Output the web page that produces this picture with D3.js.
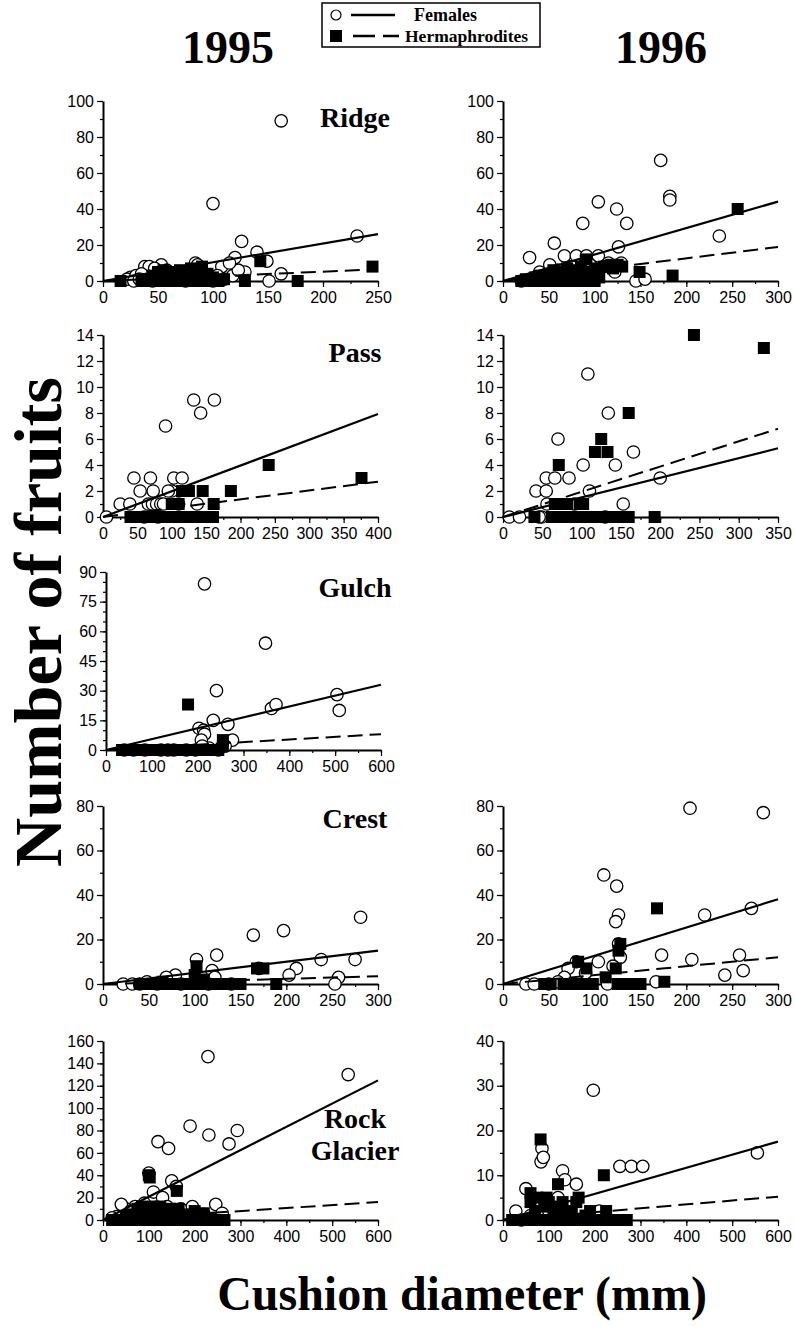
<!DOCTYPE html>
<html>
<head>
<meta charset="utf-8">
<script src="https://cdn.jsdelivr.net/npm/d3@7"></script>
<style>
	body { margin: 0; background: #fff; }
	svg { display: block; }
	.axis text { font-family: 'Liberation Sans', Arial, sans-serif; font-size: 16px; fill: #000; }
	.axis .domain { stroke: #000; stroke-width: 2; }
	.axis line { stroke: #000; stroke-width: 1.2; }
	.serif { font-family: 'Liberation Serif', 'Times New Roman', serif; font-weight: bold; fill: #000; }
</style>
</head>
<body>
<svg id="chart" width="794" height="1327"></svg>
<script>
/* global d3 */

// [cushion diameter (mm), number of fruits]
const ridge1995Females = [[162, 89], [100, 43], [231, 25], [126, 22], [140, 16], [120, 13], [149, 11], [129, 5], [151, 0], [162, 4], [108, 8], [84, 10], [86, 9], [38, 8], [42, 8], [53, 9], [47, 7], [25, 2], [22, 1], [30, 3], [35, 4], [58, 6], [63, 3], [70, 5], [78, 6], [92, 4], [96, 2], [104, 3], [110, 1], [118, 3], [123, 6], [115, 10], [66, 1], [45, 0], [55, 1], [75, 0], [88, 1], [100, 0], [28, 0], [33, 1]]
const ridge1995Herms = [[16, 0], [143, 11], [245, 8], [129, 0], [177, 0], [35, 0], [40, 1], [45, 3], [50, 5], [55, 6], [60, 5], [65, 4], [70, 6], [75, 5], [80, 7], [85, 6], [90, 8], [95, 4], [100, 2], [105, 0], [110, 1], [38, 0], [48, 0], [58, 0], [68, 0], [78, 0], [88, 0], [98, 0], [62, 2], [72, 2], [82, 3], [92, 2], [52, 2]]
const ridge1996Females = [[29, 13], [56, 21], [87, 32], [104, 44], [124, 40], [135, 32], [172, 67], [182, 47], [182, 45], [236, 25], [126, 19], [67, 14], [80, 14], [91, 14], [104, 14], [51, 9], [145, 0], [155, 1], [122, 5], [129, 10], [115, 10], [40, 5], [45, 3], [60, 6], [75, 8], [95, 9], [100, 5], [110, 8], [35, 2], [62, 3], [20, 0], [30, 1], [85, 2]]
const ridge1996Herms = [[256, 40], [149, 5], [185, 3], [91, 12], [118, 9], [125, 9], [20, 0], [25, 1], [30, 0], [35, 2], [40, 3], [45, 0], [50, 4], [55, 6], [60, 3], [65, 5], [70, 7], [75, 4], [80, 6], [85, 8], [90, 5], [95, 3], [100, 0], [105, 2], [60, 0], [70, 0], [80, 0], [90, 0], [40, 0], [50, 0], [110, 8], [120, 7], [130, 8], [100, 7]]
const pass1995Females = [[91, 7], [132, 9], [142, 8], [162, 9], [45, 3], [69, 3], [103, 3], [115, 3], [54, 2], [73, 2], [100, 2], [25, 1], [39, 1], [66, 1], [72, 1], [78, 1], [84, 1], [88, 1], [5, 0], [95, 2], [110, 1], [137, 1], [60, 0], [80, 0]]
const pass1995Herms = [[241, 4], [376, 3], [145, 2], [186, 2], [125, 2], [161, 1], [40, 0], [48, 0], [56, 0], [64, 0], [72, 0], [80, 0], [88, 0], [96, 0], [104, 0], [112, 0], [120, 0], [128, 0], [136, 0], [144, 0], [152, 0], [160, 0], [100, 1], [110, 1], [115, 2]]
const pass1996Females = [[108, 11], [134, 8], [70, 6], [102, 4], [143, 4], [166, 5], [200, 3], [55, 3], [66, 3], [84, 3], [42, 2], [55, 2], [110, 2], [153, 1], [56, 1], [8, 0], [21, 0], [49, 0], [91, 1], [46, 0], [130, 0]]
const pass1996Herms = [[243, 14], [332, 13], [160, 8], [125, 6], [117, 5], [133, 5], [71, 4], [193, 0], [40, 0], [74, 1], [102, 1], [62, 0], [66, 1], [70, 0], [78, 0], [82, 1], [86, 0], [95, 0], [105, 0], [110, 0], [115, 0], [120, 0], [125, 0], [130, 0], [135, 0], [140, 0], [145, 0], [150, 0], [155, 0], [160, 0], [65, 0], [70, 1], [98, 1]]
const gulch1995Females = [[215, 84], [348, 54], [241, 30], [234, 15], [266, 13], [203, 11], [213, 10], [215, 8], [361, 21], [371, 23], [504, 28], [509, 20], [208, 5], [276, 5], [40, 0], [60, 0], [85, 0], [120, 0], [135, 0], [148, 0], [175, 0], [195, 0], [225, 1], [245, 0], [260, 2], [210, 2]]
const gulch1995Herms = [[179, 23], [255, 5], [35, 0], [45, 0], [55, 0], [65, 0], [75, 0], [85, 0], [95, 0], [110, 0], [120, 0], [130, 0], [140, 0], [150, 0], [175, 0], [185, 0], [195, 0], [205, 0], [215, 0], [225, 0], [235, 0], [245, 0], [255, 2]]
const crest1995Females = [[164, 22], [197, 24], [281, 30], [124, 13], [102, 11], [119, 6], [211, 7], [238, 11], [275, 11], [203, 4], [257, 3], [253, 0], [79, 4], [69, 3], [22, 0], [32, 0], [48, 1], [122, 3], [59, 0], [100, 1], [115, 0], [140, 0], [170, 7], [40, 0], [85, 0]]
const crest1995Herms = [[102, 8], [168, 7], [175, 7], [189, 0], [40, 0], [48, 0], [56, 0], [64, 0], [72, 0], [80, 0], [88, 0], [96, 0], [104, 0], [112, 0], [120, 0], [128, 0], [136, 0], [144, 0], [150, 0], [65, 1], [100, 4], [110, 2]]
const crest1996Females = [[204, 79], [284, 77], [110, 49], [124, 44], [126, 31], [123, 28], [220, 31], [271, 34], [126, 18], [173, 13], [206, 11], [258, 13], [262, 6], [242, 4], [104, 10], [80, 10], [71, 7], [25, 0], [34, 0], [114, 0], [167, 1], [67, 3], [90, 5], [128, 12], [120, 8], [50, 0], [60, 1]]
const crest1996Herms = [[168, 34], [126, 15], [82, 10], [91, 7], [123, 7], [112, 3], [176, 1], [138, 0], [45, 0], [52, 0], [66, 0], [74, 0], [82, 0], [90, 0], [98, 0], [125, 0], [132, 0], [145, 0], [150, 0], [128, 18]]
const rock1995Females = [[229, 146], [535, 130], [190, 84], [231, 76], [293, 80], [275, 68], [120, 70], [143, 64], [100, 42], [150, 35], [160, 30], [110, 25], [130, 20], [90, 15], [70, 12], [50, 10], [40, 14], [60, 8], [80, 5], [120, 8], [140, 12], [170, 10], [195, 12], [246, 14], [260, 6], [200, 4], [30, 3], [20, 2], [220, 5]]
const rock1995Herms = [[100, 40], [102, 38], [161, 26], [146, 10], [60, 5], [80, 8], [110, 12], [130, 5], [200, 8], [220, 6], [265, 0], [20, 0], [30, 0], [40, 0], [50, 0], [60, 0], [70, 0], [80, 0], [90, 0], [100, 0], [110, 0], [120, 0], [130, 0], [140, 0], [150, 0], [160, 0], [170, 0], [180, 0], [190, 0], [200, 0], [210, 0], [225, 0], [235, 2], [70, 3], [90, 4], [120, 3], [150, 4], [180, 2], [50, 3], [75, 10], [85, 12], [95, 6], [105, 5], [115, 9], [125, 12], [135, 8], [155, 6], [165, 10], [175, 5], [190, 3], [205, 4], [215, 2], [245, 0], [255, 0]]
const rock1996Females = [[197, 29], [555, 15], [85, 16], [83, 13], [88, 14], [50, 7], [28, 2], [130, 11], [135, 9], [160, 8], [255, 12], [280, 12], [305, 12], [120, 5], [210, 2], [140, 3], [75, 4], [100, 2], [40, 0], [60, 1]]
const rock1996Herms = [[82, 18], [220, 10], [120, 8], [60, 6], [165, 5], [130, 4], [225, 2], [20, 0], [30, 0], [40, 0], [50, 0], [60, 0], [70, 0], [80, 0], [90, 0], [100, 0], [110, 0], [120, 0], [130, 0], [140, 0], [150, 0], [160, 0], [170, 0], [180, 0], [190, 0], [200, 0], [210, 0], [230, 0], [250, 0], [270, 0], [70, 2], [90, 3], [100, 4], [110, 2], [150, 2], [180, 1], [60, 4], [75, 5], [95, 5], [115, 3], [135, 2], [160, 4], [190, 2], [240, 0], [260, 0]]

// regression slopes through the origin: [females, hermaphrodites]
const ridge1995Fit = [0.104, 0.026]
const ridge1996Fit = [0.147, 0.063]
const pass1995Fit = [0.0198, 0.0068]
const pass1996Fit = [0.0151, 0.0194]
const gulch1995Fit = [0.055, 0.0133]
const crest1995Fit = [0.05, 0.0117]
const crest1996Fit = [0.127, 0.04]
const rock1995Fit = [0.208, 0.0267]
const rock1996Fit = [0.0292, 0.0087]

const years = ['1995', '1996']
const sites = [['Ridge'], ['Pass'], ['Gulch'], ['Crest'], ['Rock', 'Glacier']]

// axis extents: [max, major step, minor step]
const panels = [
	{ row: 0, col: 0, x: [250, 50, 25], y: [100, 20, 10], females: ridge1995Females, herms: ridge1995Herms, fit: ridge1995Fit },
	{ row: 0, col: 1, x: [300, 50, 25], y: [100, 20, 10], females: ridge1996Females, herms: ridge1996Herms, fit: ridge1996Fit },
	{ row: 1, col: 0, x: [400, 50, 25], y: [14, 2, 1], females: pass1995Females, herms: pass1995Herms, fit: pass1995Fit },
	{ row: 1, col: 1, x: [350, 50, 25], y: [14, 2, 1], females: pass1996Females, herms: pass1996Herms, fit: pass1996Fit },
	{ row: 2, col: 0, x: [600, 100, 50], y: [90, 15, 5], females: gulch1995Females, herms: gulch1995Herms, fit: gulch1995Fit },
	{ row: 3, col: 0, x: [300, 50, 25], y: [80, 20, 10], females: crest1995Females, herms: crest1995Herms, fit: crest1995Fit },
	{ row: 3, col: 1, x: [300, 50, 25], y: [80, 20, 10], females: crest1996Females, herms: crest1996Herms, fit: crest1996Fit },
	{ row: 4, col: 0, x: [600, 100, 50], y: [160, 20, 10], females: rock1995Females, herms: rock1995Herms, fit: rock1995Fit },
	{ row: 4, col: 1, x: [600, 100, 50], y: [40, 10, 5], females: rock1996Females, herms: rock1996Herms, fit: rock1996Fit }
]

// pixel layout
const cols = [{ left: 103, right: 378 }, { left: 503, right: 778 }]
const rows = [
	{ top: 101, zero: 281, title: 127 },
	{ top: 335, zero: 517, title: 362 },
	{ top: 572, zero: 750, title: 597, shift: 3 },
	{ top: 806, zero: 984, title: 828 },
	{ top: 1041, zero: 1220, title: 1128 }
]
const titleX = 355

const svg = d3.select('#chart')

const steps = (max, step) => d3.range(0, max + step / 1000, step)

const drawPanel = p => {
	const r = rows[p.row]
	const shift = p.col === 0 && r.shift ? r.shift : 0
	const x = d3.scaleLinear().domain([0, p.x[0]]).range([cols[p.col].left + shift, cols[p.col].right + shift])
	const y = d3.scaleLinear().domain([0, p.y[0]]).range([r.zero, r.top])
	const g = svg.append('g')

	g.append('g')
		.attr('class', 'axis')
		.attr('transform', `translate(0,${y(0)})`)
		.call(d3.axisBottom(x).tickValues(steps(p.x[0], p.x[2])).tickSize(3).tickFormat(''))
		.call(s => s.select('.domain').remove())
	g.append('g')
		.attr('class', 'axis')
		.attr('transform', `translate(0,${y(0)})`)
		.call(d3.axisBottom(x).tickValues(steps(p.x[0], p.x[1])).tickSize(6).tickSizeOuter(0).tickPadding(5).tickFormat(d3.format('d')))

	g.append('g')
		.attr('class', 'axis')
		.attr('transform', `translate(${x(0)},0)`)
		.call(d3.axisLeft(y).tickValues(steps(p.y[0], p.y[2])).tickSize(3).tickFormat(''))
		.call(s => s.select('.domain').remove())
	g.append('g')
		.attr('class', 'axis')
		.attr('transform', `translate(${x(0)},0)`)
		.call(d3.axisLeft(y).tickValues(steps(p.y[0], p.y[1])).tickSize(6).tickSizeOuter(0).tickPadding(3).tickFormat(d3.format('d')))

	// open circles sit underneath, the filled squares print over them
	g.append('g')
		.selectAll('circle')
		.data(p.females)
		.join('circle')
		.attr('cx', d => x(d[0]))
		.attr('cy', d => y(d[1]))
		.attr('r', 6.2)
		.attr('fill', '#fff')
		.attr('stroke', '#000')
		.attr('stroke-width', 1.3)

	g.append('g')
		.selectAll('rect')
		.data(p.herms)
		.join('rect')
		.attr('x', d => x(d[0]) - 6)
		.attr('y', d => y(d[1]) - 6)
		.attr('width', 12)
		.attr('height', 12)
		.attr('fill', '#000')

	const line = d3.line().x(d => x(d[0])).y(d => y(d[1]))
	p.fit.forEach((slope, i) => {
		g.append('path')
			.attr('d', line([[0, 0], [p.x[0], slope * p.x[0]]]))
			.attr('fill', 'none')
			.attr('stroke', '#000')
			.attr('stroke-width', i === 0 ? 2.2 : 2)
			.attr('stroke-dasharray', i === 0 ? null : '15,7')
	})

	if (p.col === 0) {
		const t = g.append('text')
			.attr('class', 'serif')
			.attr('text-anchor', 'middle')
			.attr('font-size', 28)
			.attr('x', titleX)
			.attr('y', r.title)
		sites[p.row].forEach((word, i) => {
			t.append('tspan').attr('x', titleX).attr('dy', i === 0 ? 0 : 32).text(word)
		})
	}
}

panels.forEach(drawPanel)

// year headings
svg.selectAll('.year')
	.data(years)
	.join('text')
	.attr('class', 'serif year')
	.attr('text-anchor', 'middle')
	.attr('font-size', 46)
	.attr('x', (d, i) => [228, 661][i])
	.attr('y', 63)
	.text(d => d)

// legend
const legend = svg.append('g')
legend.append('rect')
	.attr('x', 322).attr('y', 3).attr('width', 218).attr('height', 44)
	.attr('fill', 'none').attr('stroke', '#000').attr('stroke-width', 1.5)
legend.append('circle')
	.attr('cx', 336).attr('cy', 15).attr('r', 5)
	.attr('fill', '#fff').attr('stroke', '#000').attr('stroke-width', 1.2)
legend.append('line')
	.attr('x1', 351).attr('x2', 395).attr('y1', 15).attr('y2', 15)
	.attr('stroke', '#000').attr('stroke-width', 2.5)
legend.append('rect')
	.attr('x', 330).attr('y', 30).attr('width', 12).attr('height', 12).attr('fill', '#000')
legend.append('line')
	.attr('x1', 353).attr('x2', 399).attr('y1', 36).attr('y2', 36)
	.attr('stroke', '#000').attr('stroke-width', 2.5).attr('stroke-dasharray', '22,8')
legend.append('text')
	.attr('class', 'serif').attr('font-size', 18)
	.attr('x', 414).attr('y', 21).text('Females')
legend.append('text')
	.attr('class', 'serif').attr('font-size', 17.5)
	.attr('x', 405).attr('y', 42).text('Hermaphrodites')

// axis titles
svg.append('text')
	.attr('class', 'serif')
	.attr('text-anchor', 'middle')
	.attr('font-size', 68)
	.attr('transform', 'translate(61,622) rotate(-90)')
	.text('Number of fruits')

svg.append('text')
	.attr('class', 'serif')
	.attr('text-anchor', 'middle')
	.attr('font-size', 48)
	.attr('x', 462)
	.attr('y', 1310)
	.text('Cushion diameter (mm)')
</script>
</body>
</html>
